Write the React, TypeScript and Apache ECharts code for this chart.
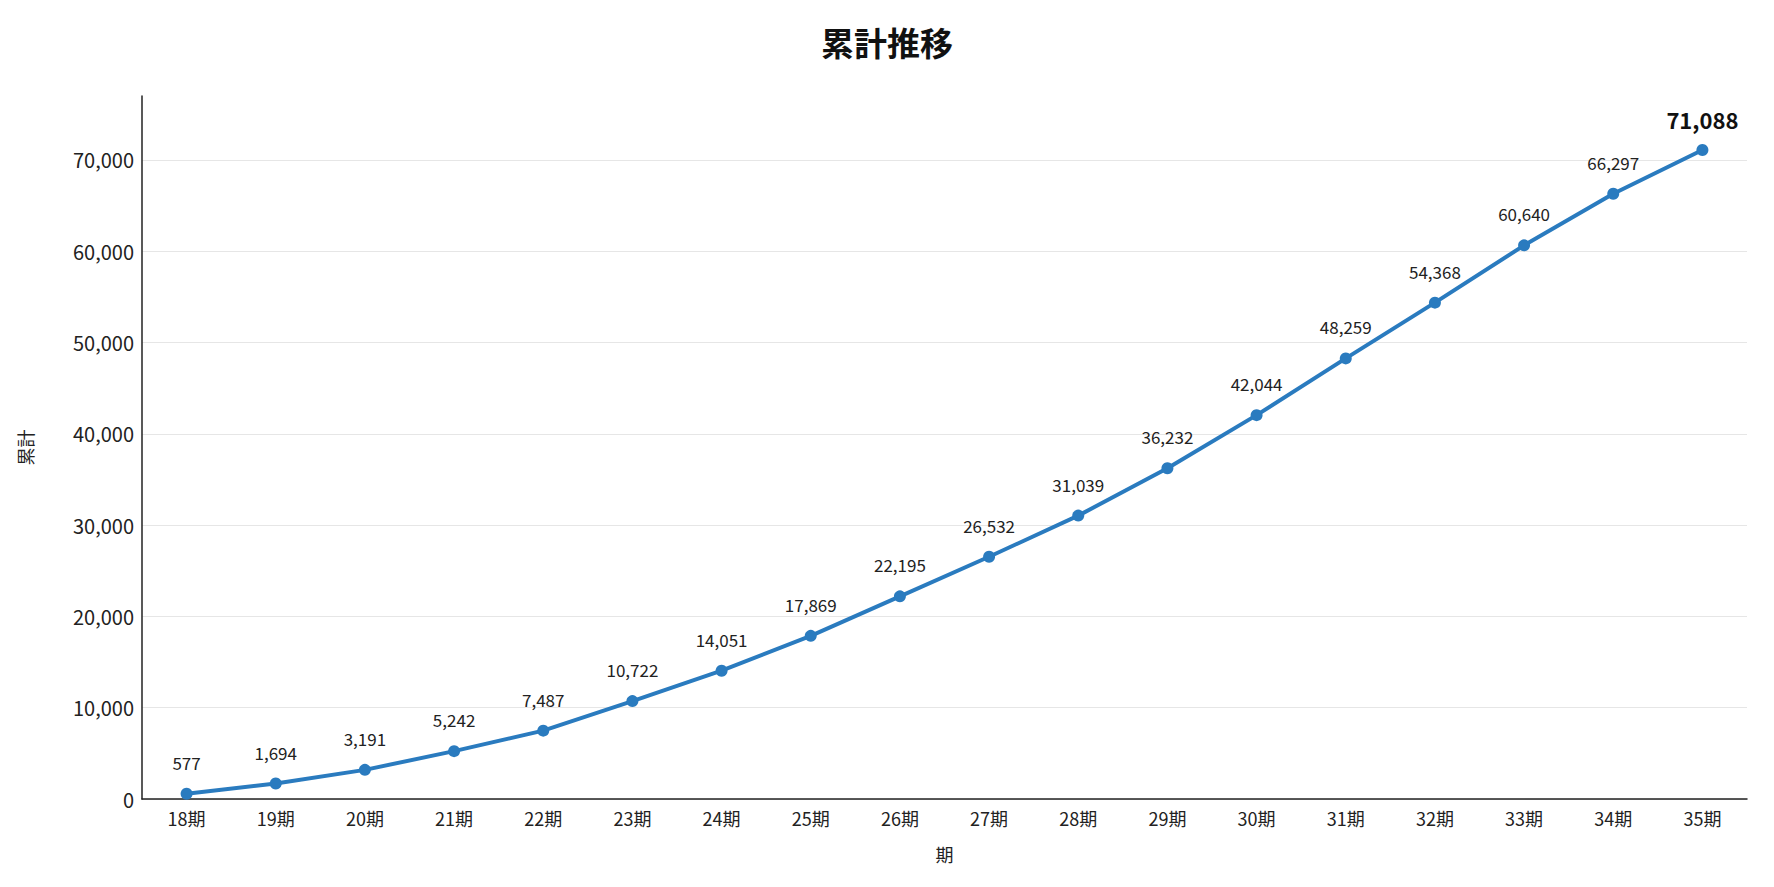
import { useEffect, useRef } from 'react';
import * as echarts from 'echarts';

const periods = ['18期', '19期', '20期', '21期', '22期', '23期', '24期', '25期', '26期', '27期', '28期', '29期', '30期', '31期', '32期', '33期', '34期', '35期'];
const cumulative = [577, 1694, 3191, 5242, 7487, 10722, 14051, 17869, 22195, 26532, 31039, 36232, 42044, 48259, 54368, 60640, 66297, 71088];

const FONT = '"Noto Sans CJK JP", "Noto Sans", sans-serif';

export default function App() {
  const ref = useRef<HTMLDivElement>(null);

  useEffect(() => {
    if (!ref.current) return;
    const chart = echarts.init(ref.current, null, { renderer: 'svg' });
    const last = cumulative.length - 1;
    chart.setOption({
      animation: false,
      textStyle: { fontFamily: FONT },
      title: {
        text: '累計推移',
        left: 'center',
        top: 12,
        textStyle: { fontSize: 33, fontWeight: 'bold', color: '#111', fontFamily: FONT },
      },
      grid: { left: 133, right: 19, top: 88, bottom: 80 },
      xAxis: {
        type: 'category',
        data: periods,
        boundaryGap: true,
        name: '期',
        nameLocation: 'middle',
        nameGap: 46,
        nameTextStyle: { fontSize: 18, color: '#222' },
        axisLine: { lineStyle: { color: '#222', width: 1.5 } },
        axisTick: { show: false },
        axisLabel: { fontSize: 18, color: '#222', margin: 10 },
      },
      yAxis: {
        type: 'value',
        min: 0,
        max: 77000,
        interval: 10000,
        name: '累計',
        nameLocation: 'middle',
        nameGap: 108,
        nameRotate: 90,
        nameTextStyle: { fontSize: 18, color: '#222' },
        axisLine: { show: true, lineStyle: { color: '#222', width: 1.5 } },
        axisTick: { show: false },
        axisLabel: {
          fontSize: 20,
          color: '#222',
          showMaxLabel: false,
          formatter: (v: number) => v.toLocaleString('en-US'),
        },
        splitLine: { showMaxLine: false, lineStyle: { color: '#e6e6e6', width: 1 } },
      },
      series: [
        {
          type: 'line',
          data: cumulative.map((v, i) =>
            i === last
              ? { value: v, label: { fontSize: 22, fontWeight: 'bold', color: '#111', distance: 14 } }
              : v,
          ),
          symbol: 'circle',
          symbolSize: 12,
          lineStyle: { width: 4, color: '#2a7bbf' },
          itemStyle: { color: '#2a7bbf' },
          label: {
            show: true,
            position: 'top',
            distance: 17,
            fontSize: 17,
            color: '#222',
            formatter: (p: any) => Number(p.value).toLocaleString('en-US'),
          },
        },
      ],
    });
    return () => chart.dispose();
  }, []);

  return <div ref={ref} style={{ width: 1758, height: 871 }} />;
}
